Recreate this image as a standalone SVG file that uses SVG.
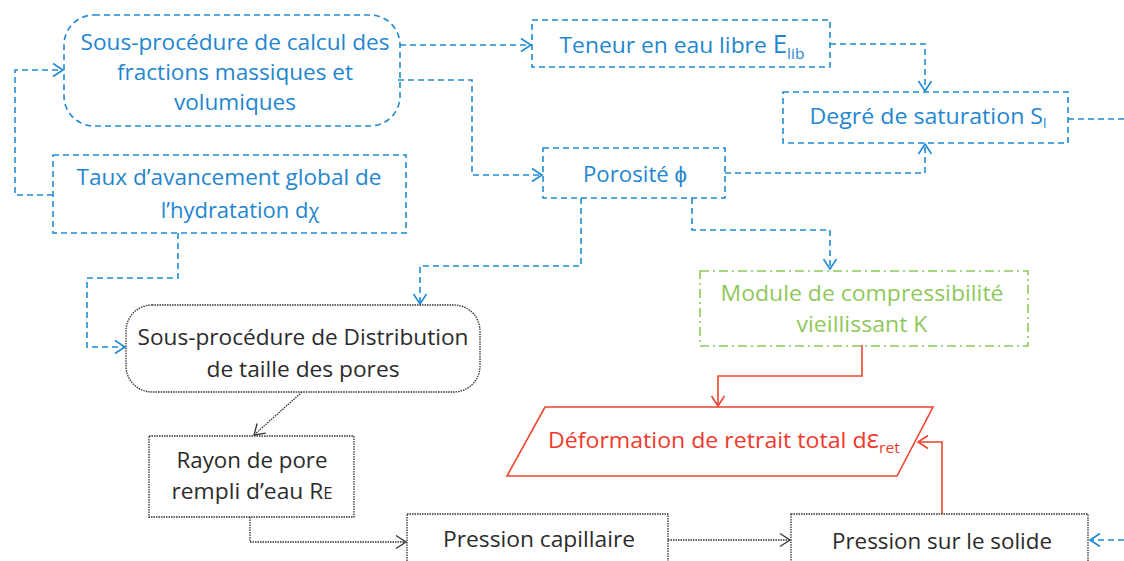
<svg xmlns="http://www.w3.org/2000/svg" width="1124" height="561" viewBox="0 0 1124 561">
<defs>
<marker id="aB" markerUnits="userSpaceOnUse" markerWidth="14" markerHeight="16" refX="12" refY="8" orient="auto"><path d="M2,1.5 L12,8 L2,14.5" fill="none" stroke="#1f8bd4" stroke-width="1.6"/></marker>
<marker id="aK" markerUnits="userSpaceOnUse" markerWidth="14" markerHeight="16" refX="12" refY="8" orient="auto"><path d="M2,1.5 L12,8 L2,14.5" fill="none" stroke="#333" stroke-width="1.3"/></marker>
<marker id="aR" markerUnits="userSpaceOnUse" markerWidth="14" markerHeight="16" refX="12" refY="8" orient="auto"><path d="M2,1.5 L12,8 L2,14.5" fill="none" stroke="#f0432f" stroke-width="1.6"/></marker>
</defs>
<style>
text{font-family:"Open Sans","Liberation Sans",sans-serif;font-size:22px;text-anchor:middle}
.b{fill:none;stroke:#1f8bd4;stroke-width:1.6;stroke-dasharray:6 4}
.k{fill:none;stroke:#333;stroke-width:1.3;stroke-dasharray:1.5 1}
.g{fill:none;stroke:#8fc85a;stroke-width:1.6;stroke-dasharray:9 4 2 4}
.r{fill:none;stroke:#f0432f;stroke-width:1.6}
.tb{fill:#1f86cf}
.tk{fill:#2b2b2b}
.tg{fill:#8fc85a}
.tr{fill:#f0392b}
</style>
<rect width="1124" height="561" fill="#fff"/>
<g id="connectors">
<path class="b" d="M53,195 H15 V70 H63" marker-end="url(#aB)"/>
<path class="b" d="M400,45 H531" marker-end="url(#aB)"/>
<path class="b" d="M398,80 H472 V175 H542" marker-end="url(#aB)"/>
<path class="b" d="M830,44 H925 V91" marker-end="url(#aB)"/>
<path class="b" d="M725,173 H925 V144" marker-end="url(#aB)"/>
<path class="b" d="M1068,119 H1124"/>
<path class="b" d="M581,198 V266 H420 V304" marker-end="url(#aB)"/>
<path class="b" d="M692,198 V230 H830 V269" marker-end="url(#aB)"/>
<path class="b" d="M178,233 V278 H87 V347 H125" marker-end="url(#aB)"/>
<path class="b" d="M1124,540 H1090" marker-end="url(#aB)"/>
<path class="k" d="M302,392 L254,435" marker-end="url(#aK)"/>
<path class="k" d="M250,517 V542 H406" marker-end="url(#aK)"/>
<path class="k" d="M668,540 H790" marker-end="url(#aK)"/>
<path class="r" d="M862,345 V376 H718 V406" marker-end="url(#aR)"/>
<path class="r" d="M942,514 V442 H918" marker-end="url(#aR)"/>
</g>
<g id="n-sousproc-calcul">
<rect class="b" x="64" y="15" width="336" height="111" rx="30"/>
<text class="tb" x="235" y="50" textLength="309" lengthAdjust="spacingAndGlyphs">Sous-procédure de calcul des</text>
<text class="tb" x="235" y="80" textLength="236" lengthAdjust="spacingAndGlyphs">fractions massiques et</text>
<text class="tb" x="235" y="110" textLength="122" lengthAdjust="spacingAndGlyphs">volumiques</text>
</g>
<g id="n-taux">
<rect class="b" x="53" y="155" width="353" height="78"/>
<text class="tb" x="229" y="185" textLength="305" lengthAdjust="spacingAndGlyphs">Taux d’avancement global de</text>
<text class="tb" x="240" y="218">l’hydratation d<tspan font-size="20">χ</tspan></text>
</g>
<g id="n-teneur">
<rect class="b" x="532" y="20" width="298" height="47"/>
<text class="tb" x="682" y="53" textLength="245" lengthAdjust="spacingAndGlyphs">Teneur en eau libre <tspan font-size="25">E</tspan><tspan font-size="15" dy="6">lib</tspan></text>
</g>
<g id="n-porosite">
<rect class="b" x="543" y="148" width="182" height="50"/>
<text class="tb" x="635" y="182" textLength="104" lengthAdjust="spacingAndGlyphs">Porosité ϕ</text>
</g>
<g id="n-degre">
<rect class="b" x="783" y="92" width="285" height="51"/>
<text class="tb" x="928" y="124" textLength="237" lengthAdjust="spacingAndGlyphs">Degré de saturation S<tspan font-size="13" dy="4">l</tspan></text>
</g>
<g id="n-distribution">
<rect class="k" x="126" y="305" width="354" height="87" rx="26"/>
<text class="tk" x="303" y="345" textLength="331" lengthAdjust="spacingAndGlyphs">Sous-procédure de Distribution</text>
<text class="tk" x="303" y="377" textLength="193" lengthAdjust="spacingAndGlyphs">de taille des pores</text>
</g>
<g id="n-rayon">
<rect class="k" x="149" y="436" width="205" height="81"/>
<text class="tk" x="252" y="468" textLength="151" lengthAdjust="spacingAndGlyphs">Rayon de pore</text>
<text class="tk" x="252" y="499" textLength="161" lengthAdjust="spacingAndGlyphs">rempli d’eau R<tspan font-size="16">E</tspan></text>
</g>
<g id="n-module">
<rect class="g" x="700" y="271" width="328" height="75"/>
<text class="tg" x="862" y="301" textLength="283" lengthAdjust="spacingAndGlyphs">Module de compressibilité</text>
<text class="tg" x="862" y="332" textLength="131" lengthAdjust="spacingAndGlyphs">vieillissant K</text>
</g>
<g id="n-deformation">
<polygon class="r" points="545,407 933,407 897,476 507,476"/>
<text class="tr" x="724" y="448" textLength="352" lengthAdjust="spacingAndGlyphs">Déformation de retrait total d<tspan font-size="25">ε</tspan><tspan font-size="15" dy="5">ret</tspan></text>
</g>
<g id="n-pcap">
<rect class="k" x="407" y="514" width="261" height="60"/>
<text class="tk" x="539" y="547" textLength="192" lengthAdjust="spacingAndGlyphs">Pression capillaire</text>
</g>
<g id="n-psol">
<rect class="k" x="791" y="514" width="297" height="60"/>
<text class="tk" x="942" y="549" textLength="220" lengthAdjust="spacingAndGlyphs">Pression sur le solide</text>
</g>
</svg>
